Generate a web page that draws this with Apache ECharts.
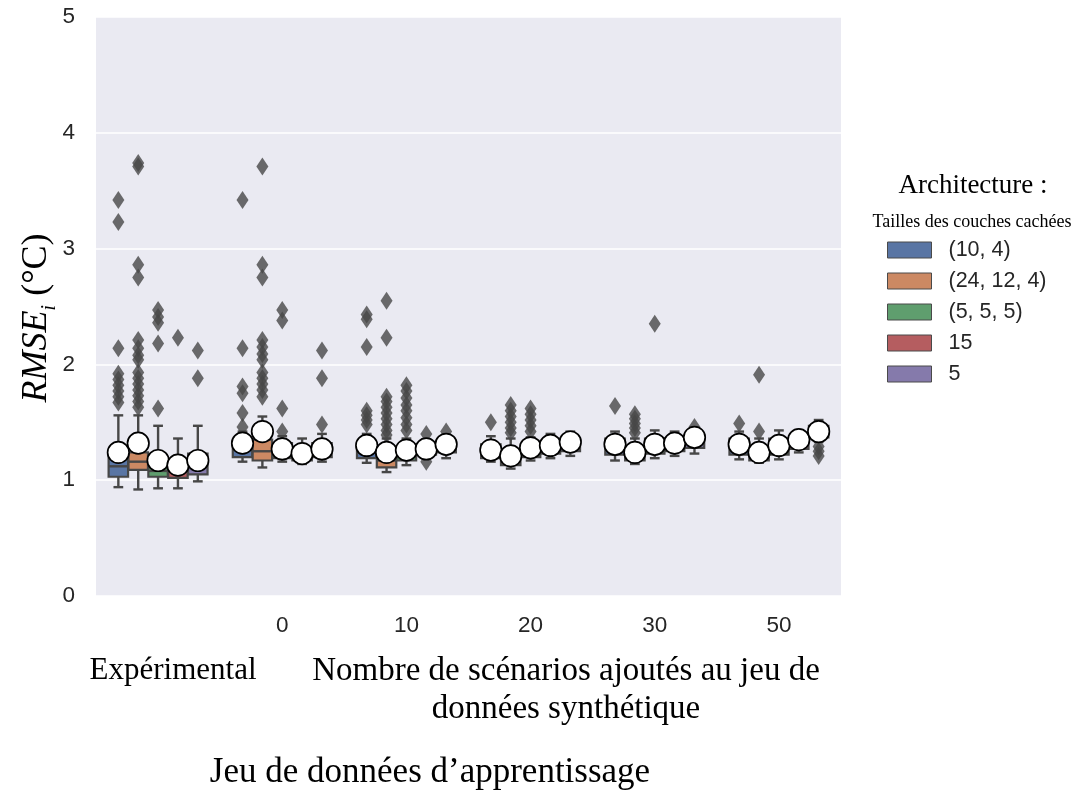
<!DOCTYPE html>
<html>
<head>
<meta charset="utf-8">
<script src="https://cdn.jsdelivr.net/npm/echarts@6/dist/echarts.min.js"></script>
<style>html,body{margin:0;padding:0;background:#fff}#c{width:1075px;height:798px}</style>
</head>
<body>
<div id="c"></div>
<script>
// ---------- DATA ----------
const groups = ['Expérimental', '0', '10', '20', '30', '50'];
const hueNames = ['(10, 4)', '(24, 12, 4)', '(5, 5, 5)', '15', '5'];
const yTicks = [0, 1, 2, 3, 4, 5];

// box stats per group: [whisker low, Q1, median, Q3, whisker high]
const box_10_4 = [[0.94,1.03,1.12,1.22,1.56],[1.16,1.20,1.26,1.34,1.42],[1.15,1.19,1.24,1.32,1.40],[1.16,1.19,1.24,1.31,1.38],[1.17,1.22,1.29,1.36,1.42],[1.18,1.22,1.29,1.36,1.42]];
const box_24_12_4 = [[0.92,1.09,1.16,1.24,1.56],[1.11,1.17,1.25,1.35,1.55],[1.07,1.11,1.17,1.25,1.36],[1.10,1.13,1.18,1.25,1.36],[1.14,1.17,1.22,1.28,1.36],[1.15,1.17,1.22,1.28,1.36]];
const box_5_5_5 = [[0.93,1.03,1.08,1.17,1.47],[1.16,1.19,1.24,1.32,1.38],[1.13,1.17,1.21,1.28,1.36],[1.17,1.20,1.25,1.31,1.37],[1.19,1.23,1.28,1.36,1.43],[1.18,1.22,1.28,1.36,1.43]];
const box_15 = [[0.93,1.02,1.08,1.16,1.36],[1.14,1.17,1.21,1.28,1.36],[1.19,1.22,1.27,1.31,1.35],[1.19,1.23,1.28,1.34,1.40],[1.21,1.25,1.30,1.36,1.42],[1.24,1.27,1.32,1.38,1.43]];
const box_5 = [[0.99,1.05,1.12,1.23,1.47],[1.16,1.20,1.25,1.32,1.40],[1.19,1.24,1.29,1.34,1.38],[1.21,1.25,1.30,1.36,1.42],[1.23,1.28,1.34,1.39,1.43],[1.33,1.37,1.43,1.47,1.52]];

// outliers per group
const out_10_4 = [[3.42,3.23,2.14,1.92,1.87,1.82,1.77,1.72,1.67],[3.42,2.14,1.81,1.75,1.58,1.46],[2.43,2.39,2.15,1.60,1.56,1.52,1.48],[1.50],[1.64],[1.49]];
const out_24_12_4 = [[3.74,3.71,2.86,2.75,2.21,2.14,2.08,2.04,1.93,1.88,1.83,1.78,1.73,1.68,1.63],[3.71,2.86,2.75,2.21,2.15,2.09,2.04,1.93,1.88,1.83,1.78,1.72],[2.55,2.23,1.72,1.68,1.63,1.58,1.53,1.48,1.43,1.39],[1.65,1.60,1.55,1.50,1.45,1.41],[1.57,1.53,1.49,1.45,1.41],[1.91,1.42]];
const out_5_5_5 = [[2.47,2.41,2.36,2.18,1.62],[2.47,2.38,1.62,1.42],[1.82,1.77,1.71,1.65,1.60,1.54,1.48,1.43],[1.62,1.57,1.52,1.47,1.42],[2.35],[]];
const out_15 = [[2.23],[],[1.40,1.16],[],[],[]];
const out_5 = [[2.12,1.88],[2.12,1.88,1.48],[1.42],[],[1.46],[1.29,1.25,1.21]];

// means per group
const mean_10_4 = [1.24,1.32,1.30,1.26,1.31,1.31];
const mean_24_12_4 = [1.32,1.42,1.24,1.21,1.24,1.24];
const mean_5_5_5 = [1.17,1.27,1.26,1.28,1.31,1.30];
const mean_15 = [1.13,1.23,1.27,1.30,1.32,1.35];
const mean_5 = [1.17,1.27,1.31,1.33,1.37,1.42];

// ---------- STYLE ----------
const colors = ['#5975a4', '#cc8963', '#5f9e6e', '#b55d60', '#857aab'];
const LINE = '#474747';
const HUE_STEP = 0.16;        // dodge between hue boxes (category units)
const BOX_W = 0.16 * 0.98;    // box width (category units)
const SERIF = "'Liberation Serif','Times New Roman',serif";
const SANS = "'Liberation Sans',Arial,sans-serif";

const boxes = [box_10_4, box_24_12_4, box_5_5_5, box_15, box_5];
const outs = [out_10_4, out_24_12_4, out_5_5_5, out_15, out_5];
const means = [mean_10_4, mean_24_12_4, mean_5_5_5, mean_15, mean_5];

function xPos(g, h) { return g + (h - 2) * HUE_STEP; }

function makeRender(color) {
  return function (params, api) {
    const x = api.value(0);
    const lo = api.coord([x, api.value(1)]);
    const q1 = api.coord([x, api.value(2)]);
    const md = api.coord([x, api.value(3)]);
    const q3 = api.coord([x, api.value(4)]);
    const hi = api.coord([x, api.value(5)]);
    const hw = api.size([BOX_W, 0])[0] / 2;
    const cw = hw / 2;
    const ls = { stroke: LINE, lineWidth: 2.4 };
    return {
      type: 'group',
      children: [
        { type: 'line', shape: { x1: q1[0], y1: q1[1], x2: lo[0], y2: lo[1] }, style: ls },
        { type: 'line', shape: { x1: q3[0], y1: q3[1], x2: hi[0], y2: hi[1] }, style: ls },
        { type: 'line', shape: { x1: lo[0] - cw, y1: lo[1], x2: lo[0] + cw, y2: lo[1] }, style: ls },
        { type: 'line', shape: { x1: hi[0] - cw, y1: hi[1], x2: hi[0] + cw, y2: hi[1] }, style: ls },
        { type: 'rect', shape: { x: q3[0] - hw, y: q3[1], width: 2 * hw, height: q1[1] - q3[1] },
          style: { fill: color, stroke: LINE, lineWidth: 2.2 } },
        { type: 'line', shape: { x1: md[0] - hw, y1: md[1], x2: md[0] + hw, y2: md[1] }, style: ls }
      ]
    };
  };
}

const series = [];
hueNames.forEach(function (name, h) {
  series.push({
    name: name,
    type: 'custom',
    xAxisIndex: 1,
    color: colors[h],
    itemStyle: { color: colors[h] },
    renderItem: makeRender(colors[h]),
    encode: { x: 0, y: [1, 2, 3, 4, 5] },
    data: boxes[h].map(function (s, g) { return [xPos(g, h)].concat(s); }),
    z: 2,
    silent: true
  });
});
hueNames.forEach(function (name, h) {
  const pts = [];
  outs[h].forEach(function (arr, g) { arr.forEach(function (v) { pts.push([xPos(g, h), v]); }); });
  series.push({
    name: name + ' outliers',
    type: 'scatter',
    xAxisIndex: 1,
    symbol: 'diamond',
    symbolSize: [12, 18],
    itemStyle: { color: LINE },
    data: pts,
    z: 3,
    silent: true
  });
});
hueNames.forEach(function (name, h) {
  series.push({
    name: name + ' mean',
    type: 'scatter',
    xAxisIndex: 1,
    symbol: 'circle',
    symbolSize: 21.5,
    itemStyle: { color: '#ffffff', borderColor: '#000000', borderWidth: 1.7, opacity: 1 },
    data: means[h].map(function (v, g) { return [xPos(g, h), v]; }),
    z: 4 + h,
    silent: true
  });
});

const chart = echarts.init(document.getElementById('c'), null, { renderer: 'canvas' });
chart.setOption({
  animation: false,
  backgroundColor: '#ffffff',
  grid: { left: 96, right: 234, top: 17, bottom: 202, show: true, backgroundColor: '#EAEAF2', borderWidth: 0 },
  xAxis: [
    {
      type: 'category',
      data: groups,
      axisLine: { show: false },
      axisTick: { show: false },
      splitLine: { show: false },
      axisLabel: {
        interval: 0,
        fontSize: 22.5,
        fontFamily: SANS,
        color: '#262626',
        margin: 18,
        formatter: function (v, i) { return i === 0 ? '{e|' + v + '}' : v; },
        rich: { e: { fontFamily: SERIF, fontSize: 31, color: '#000', padding: [41, 0, 0, 30] } }
      }
    },
    { type: 'value', min: -0.5, max: 5.5, show: false }
  ],
  yAxis: {
    type: 'value',
    min: yTicks[0],
    max: yTicks[yTicks.length - 1],
    interval: 1,
    axisLine: { show: false },
    axisTick: { show: false },
    splitLine: { show: true, lineStyle: { color: '#ffffff', width: 1.6 } },
    axisLabel: { fontSize: 22.5, fontFamily: SANS, color: '#262626', margin: 21 }
  },
  legend: {
    data: hueNames.map(function (n, h) { return { name: n, icon: 'rect', itemStyle: { color: colors[h], borderColor: '#4a4a4a', borderWidth: 1 } }; }),
    orient: 'vertical',
    left: 887,
    top: 239,
    padding: 0,
    itemWidth: 44,
    itemHeight: 16,
    itemGap: 9,
    selectedMode: false,
    textStyle: { fontSize: 21.5, fontFamily: SANS, color: '#262626', padding: [0, 0, 0, 12] }
  },
  graphic: [
    { type: 'text', x: 37, y: 318, rotation: Math.PI / 2, style: {
        text: '{a|RMSE}{b|i}{c| (°C)}', align: 'center', verticalAlign: 'middle',
        rich: {
          a: { fontFamily: SERIF, fontStyle: 'italic', fontSize: 36, fill: '#000', verticalAlign: 'bottom' },
          b: { fontFamily: SERIF, fontStyle: 'italic', fontSize: 21, fill: '#000', verticalAlign: 'bottom', padding: [0, 0, -5, 0] },
          c: { fontFamily: SERIF, fontSize: 36, fill: '#000', verticalAlign: 'bottom' }
        } } },
    { type: 'text', x: 566, y: 690, style: { text: 'Nombre de scénarios ajoutés au jeu de\ndonnées synthétique', align: 'center', verticalAlign: 'middle', fontFamily: SERIF, fontSize: 33, lineHeight: 38, fill: '#000' } },
    { type: 'text', x: 430, y: 773, style: { text: 'Jeu de données d’apprentissage', align: 'center', verticalAlign: 'middle', fontFamily: SERIF, fontSize: 35, fill: '#000' } },
    { type: 'text', x: 973, y: 186, style: { text: 'Architecture :', align: 'center', verticalAlign: 'middle', fontFamily: SERIF, fontSize: 27, fill: '#000' } },
    { type: 'text', x: 972, y: 222, style: { text: 'Tailles des couches cachées', align: 'center', verticalAlign: 'middle', fontFamily: SERIF, fontSize: 18, fill: '#000' } }
  ],
  series: series
});
</script>
</body>
</html>
